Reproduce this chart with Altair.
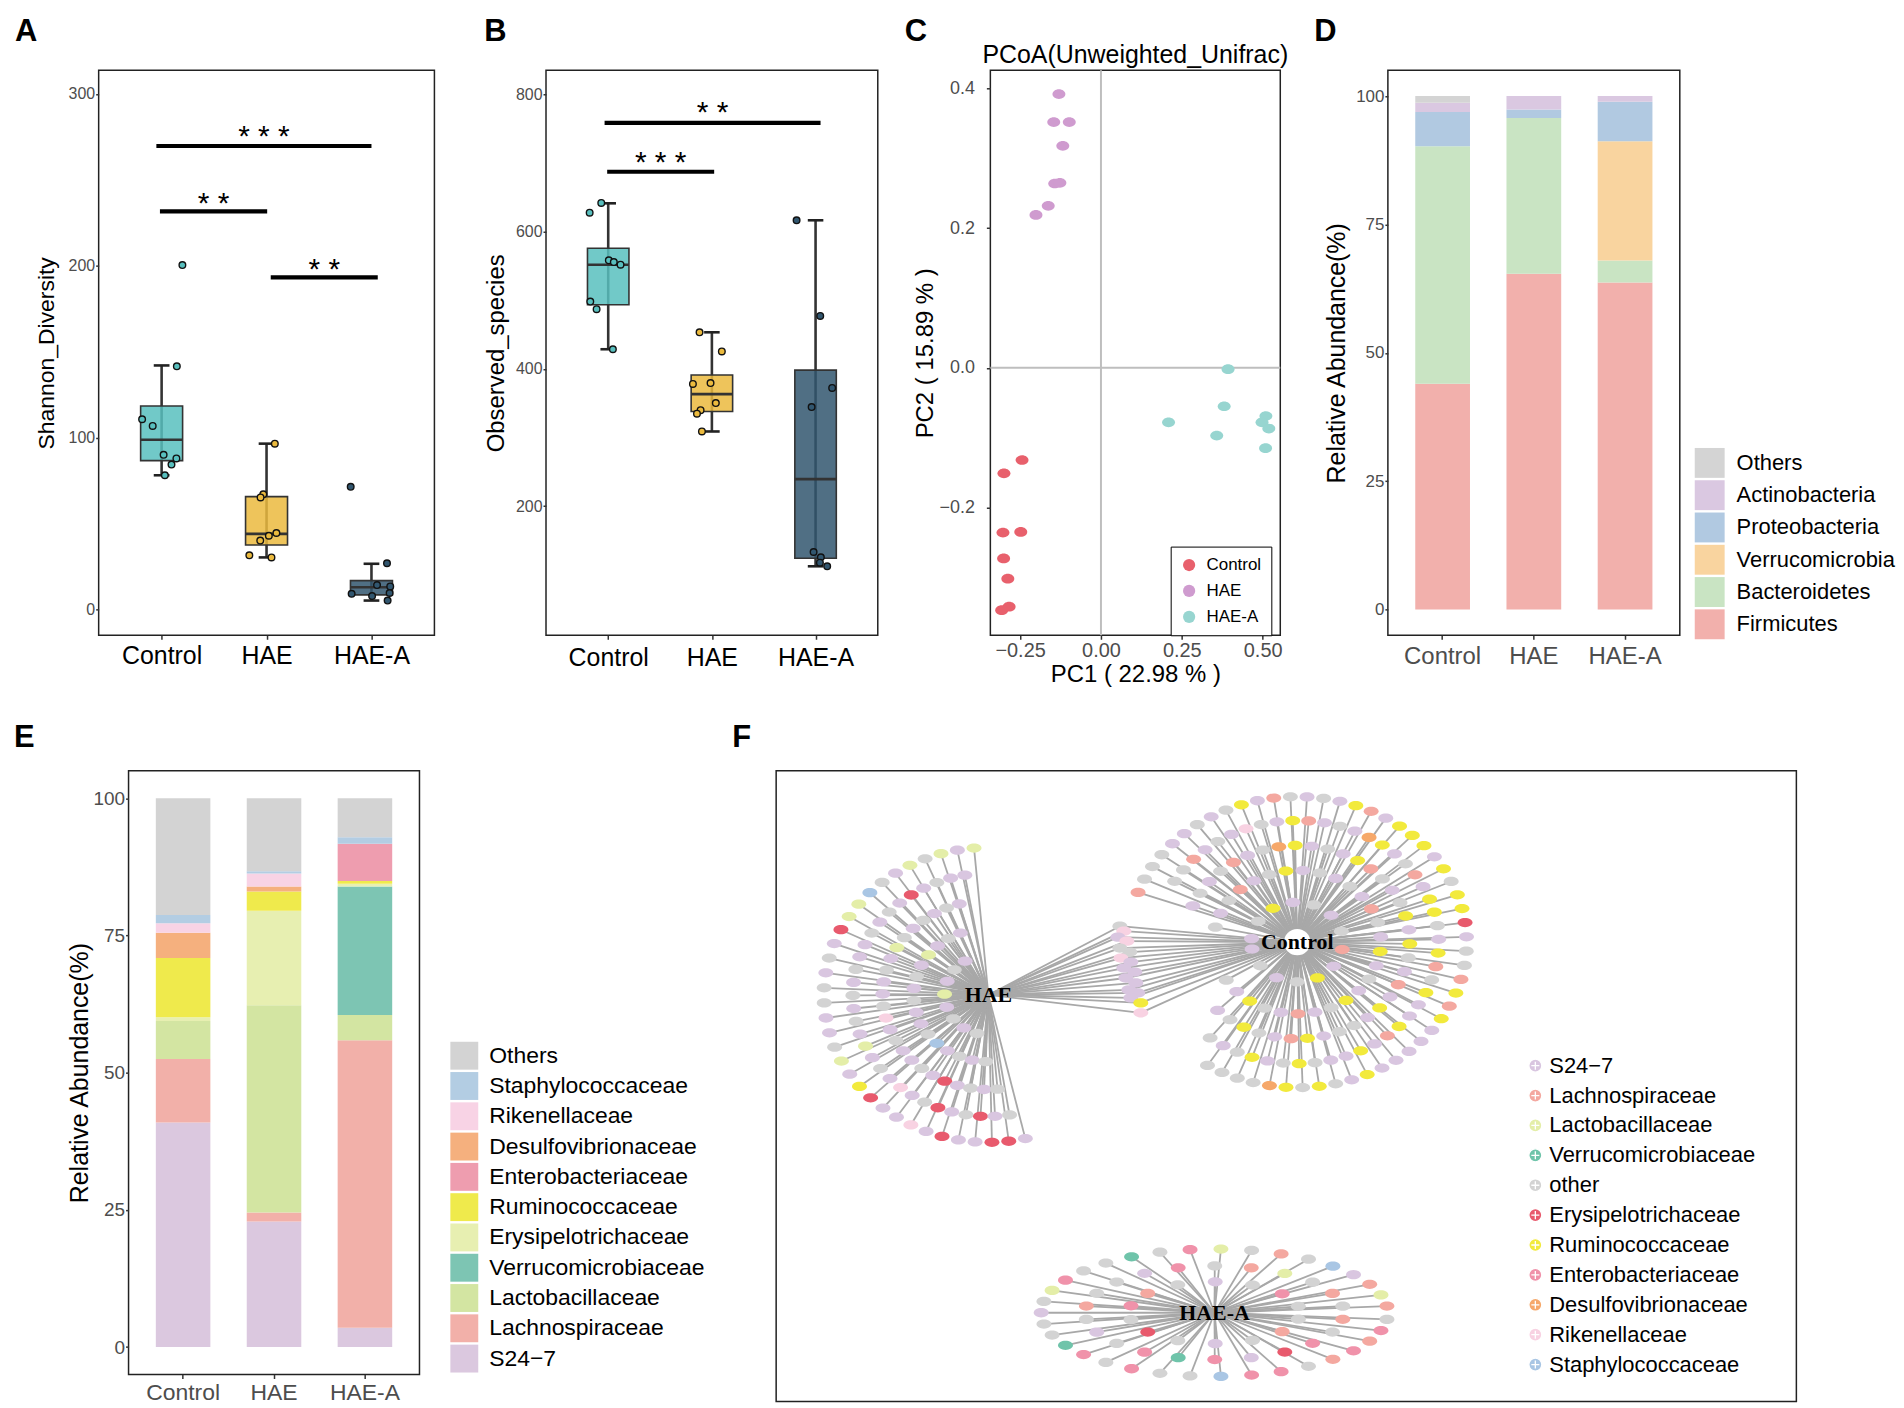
import altair as alt
import pandas as pd
import numpy as np

FONT = "Liberation Sans"
SERIF = "Liberation Serif"
GRAY_TXT = "#4D4D4D"

# ---------------- shared categories ----------------
groups = ["Control", "HAE", "HAE-A"]
group_pos = [1, 2, 3]
box_colors = ["#58BFBE", "#EBBA3E", "#31566F"]

# ---------------- panel A : Shannon diversity ----------------
A_q1 = [86.6, 37.5, 8.5]
A_med = [98.8, 44.0, 12.9]
A_q3 = [118.4, 65.7, 16.8]
A_lo = [78.1, 30.3, 5.2]
A_hi = [142.0, 96.5, 26.6]
pt_groups = ["Control"] * 8 + ["HAE"] * 8 + ["HAE-A"] * 8
A_pt_offset = [0.198, 0.145, -0.186, -0.085, 0.019, 0.141, 0.094, 0.031,
               0.079, -0.031, -0.057, 0.094, 0.022, -0.060, -0.164, 0.047,
               -0.198, 0.148, 0.053, 0.179, -0.189, 0.006, 0.173, 0.154]
A_pt_value = [200.4, 141.5, 110.7, 106.8, 90.0, 87.9, 84.3, 78.1,
              96.5, 67.0, 65.2, 44.5, 42.9, 40.1, 31.5, 30.3,
              71.4, 26.9, 14.2, 13.4, 9.1, 7.8, 9.6, 5.2]
A_sig_x1 = [0.95, 0.984, 2.04]
A_sig_x2 = [3.0, 2.006, 3.06]
A_sig_y = [269.7, 231.7, 193.2]
A_star_y = [279.3, 240.5, 202.2]
A_stars = ["* * *", "* *", "* *"]

# ---------------- panel B : Observed species ----------------
B_q1 = [493.5, 338.0, 124.2]
B_med = [551.9, 363.3, 239.5]
B_q3 = [575.8, 391.1, 398.3]
B_lo = [428.7, 308.9, 112.5]
B_hi = [641.3, 453.4, 616.6]
B_pt_offset = [-0.067, -0.179, 0.006, 0.054, 0.119, -0.173, -0.112, 0.045,
               -0.119, 0.096, -0.183, -0.013, 0.038, -0.109, -0.144, -0.096,
               -0.183, 0.045, 0.160, -0.038, -0.019, 0.051, 0.042, 0.112]
B_pt_value = [641.9, 627.7, 558.3, 555.7, 551.9, 498.1, 487.1, 428.7,
              453.4, 425.5, 378.2, 379.5, 350.3, 340.0, 334.8, 308.9,
              616.6, 477.3, 372.4, 344.5, 133.3, 125.5, 117.7, 112.5]
B_sig_x1 = [0.965, 0.99]
B_sig_x2 = [3.048, 2.022]
B_sig_y = [758.5, 687.3]
B_star_y = [785.0, 712.0]
B_stars = ["* *", "* * *"]

# ---------------- panel C : PCoA ----------------
C_title = "PCoA(Unweighted_Unifrac)"
C_group = ["Control"] * 8 + ["HAE"] * 8 + ["HAE-A"] * 8
C_pc1 = [-0.244, -0.300, -0.303, -0.248, -0.301, -0.288, -0.284, -0.307,
         -0.130, -0.146, -0.098, -0.118, -0.143, -0.127, -0.163, -0.201,
         0.393, 0.381, 0.209, 0.358, 0.510, 0.498, 0.519, 0.509]
C_pc2 = [-0.132, -0.151, -0.236, -0.235, -0.273, -0.302, -0.342, -0.347,
         0.392, 0.352, 0.352, 0.318, 0.264, 0.265, 0.232, 0.219,
         -0.002, -0.055, -0.078, -0.097, -0.069, -0.078, -0.087, -0.115]
C_colors = ["#E8606C", "#CF9BCF", "#97D5D0"]

# ---------------- panel D : phylum composition (bottom -> top) ----------------
D_taxa = ["Firmicutes", "Bacteroidetes", "Verrucomicrobia", "Proteobacteria", "Actinobacteria", "Others"]
D_control = [44.0, 46.2, 0.0, 6.7, 1.8, 1.3]
D_hae = [65.4, 30.3, 0.0, 1.7, 2.6, 0.0]
D_haea = [63.7, 4.3, 23.2, 7.7, 1.1, 0.0]
D_colors_top_down = ["#D4D4D4", "#DAC8E1", "#B1C9E1", "#F9D49F", "#C9E4C3", "#F2B0AC"]

# ---------------- panel E : family composition (bottom -> top) ----------------
E_taxa = ["S24\u22127", "Lachnospiraceae", "Lactobacillaceae", "Verrucomicrobiaceae",
          "Erysipelotrichaceae", "Ruminococcaceae", "Enterobacteriaceae",
          "Desulfovibrionaceae", "Rikenellaceae", "Staphylococcaceae", "Others"]
E_control = [40.9, 11.6, 6.9, 0.0, 0.7, 10.8, 0.0, 4.6, 1.7, 1.5, 21.3]
E_hae = [22.9, 1.6, 37.8, 0.0, 17.2, 3.5, 0.0, 0.9, 2.4, 0.4, 13.3]
E_haea = [3.5, 52.4, 4.6, 23.4, 0.5, 0.5, 6.8, 0.0, 0.0, 1.2, 7.1]
E_colors_top_down = ["#D3D3D3", "#B3CDE3", "#F8D3E5", "#F5B07E", "#EE9DAF", "#EFEA4C",
                     "#E7EFB1", "#7DC5B3", "#D3E5A2", "#F2B0A9", "#DBC8DF"]

# ---------------- panel F : network ----------------
F_families = ["S24\u22127", "Lachnospiraceae", "Lactobacillaceae", "Verrucomicrobiaceae", "other",
              "Erysipelotrichaceae", "Ruminococcaceae", "Enterobacteriaceae",
              "Desulfovibrionaceae", "Rikenellaceae", "Staphylococcaceae"]
F_codes = ["S", "L", "B", "V", "O", "E", "R", "N", "D", "K", "T"]
F_colors = ["#D9C6E0", "#F4A8A0", "#E4EEA8", "#6FC4AA", "#D3D3D3", "#E85A6D",
            "#F2EA3C", "#F092AA", "#F6A86A", "#F8D2E2", "#A9C6E4"]
F_hub_names = ["Control", "HAE", "HAE-A"]
F_hub_x = [523, 213, 440]
F_hub_y = [172, 225, 544]
# rings: hub, radius x, radius y, start angle, end angle, node families in order
F_rings = [
    ("Control", 170, 146, -122, 160, "OOOODROROSRSSSSSRLRLOOSERRORSRRRSLRSOSOLSROSOSSOOOL"),
    ("Control", 142, 122, -128, 150, "OSORSOROSSRSLRSSROLRSORRSLOSRDSOSLRSOKSOSLOO"),
    ("Control", 113, 97, -135, 158, "SOROSLRSOOSRSLSORSROSOLRSOSRDOSLOSOS"),
    ("Control", 84, 72, -148, 168, "OSROSLSORSOSRSOLSOSOSROSLOSO"),
    ("Control", 46, 40, -170, 175, "SOSORSLOSOSROS"),
    ("HAE", 165, 148, 95, 283, "BSBOBSOTBBESOSOOSSOBSRESSKSESSEES"),
    ("HAE", 136, 122, 100, 279, "SSOSESOSOSSOSOSOSBSOSKSOESOESO"),
    ("HAE", 106, 95, 106, 275, "SOSOSOBSOSSOKSOSSOSESOSO"),
    ("HAE", 75, 67, 112, 268, "SOSBSOSOSSOTSOSO"),
    ("HAE", 44, 40, 122, 255, "SOSBSOSO"),
    ("HAE-A", 174, 64, 6, 354, "LBLSTOLOBNOVOONBOSOOVNONOOTNNOLNLNO"),
    ("HAE-A", 130, 47, 8, 352, "OLOBLONSOOLOSONVNSENOL"),
    ("HAE-A", 86, 31, 12, 348, "ONOSOLNOEOSOLO"),
]
# nodes shared by HAE and Control
F_shared_x = [345, 349, 343, 352, 345, 355, 346, 356, 349, 360, 351, 361, 354, 363, 356, 366, 366]
F_shared_y = [156, 161, 167, 171, 178, 182, 188, 192, 198, 202, 208, 213, 220, 223, 228, 233, 243]
F_shared_c = "OKSKOOKSSSSSSSSRK"

ELL_C = "M-1,0 C-1,-0.41 -0.55,-0.75 0,-0.75 C0.55,-0.75 1,-0.41 1,0 C1,0.41 0.55,0.75 0,0.75 C-0.55,0.75 -1,0.41 -1,0 Z"
ELL_F = "M-1,0 C-1,-0.34 -0.55,-0.62 0,-0.62 C0.55,-0.62 1,-0.34 1,0 C1,0.34 0.55,0.62 0,0.62 C-0.55,0.62 -1,0.34 -1,0 Z"
OPLUS = ("M-1,0 C-1,-0.55 -0.55,-1 0,-1 C0.55,-1 1,-0.55 1,0 C1,0.55 0.55,1 0,1 "
         "C-0.55,1 -1,0.55 -1,0 Z M-0.62,0 L0.62,0 M0,-0.62 L0,0.62")


# ---------------- helpers ----------------
def text_at(txt, x, y, size=31, weight="bold", align="left", font=FONT):
    return alt.Chart(pd.DataFrame({"t": [txt]})).mark_text(
        font=font, fontSize=size, fontWeight=weight, align=align, baseline="alphabetic", color="black"
    ).encode(text="t:N", x=alt.value(x), y=alt.value(y))


def guide(x1, y1, x2, y2):
    # white (invisible) layout helper placed where nothing else is drawn
    return alt.Chart(pd.DataFrame({"g": [0]})).mark_rule(color="white", strokeWidth=1).encode(
        x=alt.value(x1), y=alt.value(y1), x2=alt.value(x2), y2=alt.value(y2))


def spacer(w):
    # narrow empty cell that starts each row at the page's left edge
    return guide(0, 0, 0, 0).properties(width=w, height=1,
                                        view=alt.ViewBackground(stroke="transparent", strokeOpacity=0))


def group_axis(size, color, pad):
    return alt.Axis(values=group_pos,
                    labelExpr="datum.value == 1 ? 'Control' : (datum.value == 2 ? 'HAE' : 'HAE-A')",
                    labelFontSize=size, labelColor=color, labelPadding=pad, tickSize=4,
                    labelFlush=False, labelOverlap=False, title=None)


def box_panel(q1, med, q3, lo, hi, offs, vals, sx1, sx2, sy, stary, stars, ydomain, yticks,
              ytitle, ytitle_size, ytitle_pad, ylab_size, xlab_pad, width, height, letter, lx, guide_args):
    box = pd.DataFrame({"group": groups, "pos": group_pos, "q1": q1, "med": med, "q3": q3,
                        "lo": lo, "hi": hi})
    box["left"] = box["pos"] - 0.2
    box["right"] = box["pos"] + 0.2
    box["capl"] = box["pos"] - 0.075
    box["capr"] = box["pos"] + 0.075
    pts = pd.DataFrame({"group": pt_groups, "val": vals})
    pts["px"] = [group_pos[groups.index(g)] + o for g, o in zip(pt_groups, offs)]
    sig = pd.DataFrame({"x1": sx1, "x2": sx2, "y": sy, "sy": stary, "t": stars})
    sig["xc"] = (sig["x1"] + sig["x2"]) / 2

    xs = alt.Scale(domain=[0.4, 3.6], nice=False, zero=False)
    ys = alt.Scale(domain=ydomain, nice=False, zero=False)
    xax = group_axis(25, "black", xlab_pad)
    yax = alt.Axis(values=yticks, labelFontSize=ylab_size, labelColor=GRAY_TXT, tickSize=3,
                   labelPadding=1, title=ytitle, titleFontSize=ytitle_size, titlePadding=ytitle_pad,
                   titleFontWeight="normal", format="d")
    fill = alt.Fill("group:N", scale=alt.Scale(domain=groups, range=box_colors), legend=None)

    def X(f):
        return alt.X(f, type="quantitative", scale=xs, axis=xax)

    def Y(f):
        return alt.Y(f, type="quantitative", scale=ys, axis=yax)

    whisk = alt.Chart(box).mark_rule(color="#333333", strokeWidth=2.6).encode(x=X("pos"), y=Y("lo"), y2="hi:Q")
    boxes = alt.Chart(box).mark_bar(stroke="#333333", strokeWidth=1.6, fillOpacity=0.85).encode(
        x=X("left"), x2="right:Q", y=Y("q1"), y2="q3:Q", fill=fill)
    medl = alt.Chart(box).mark_rule(color="#333333", strokeWidth=2.6).encode(x=X("left"), x2="right:Q", y=Y("med"))
    cap_lo = alt.Chart(box).mark_rule(color="#222222", strokeWidth=2.6).encode(x=X("capl"), x2="capr:Q", y=Y("lo"))
    cap_hi = alt.Chart(box).mark_rule(color="#222222", strokeWidth=2.6).encode(x=X("capl"), x2="capr:Q", y=Y("hi"))
    points = alt.Chart(pts).mark_point(filled=True, size=44, stroke="#111111", strokeWidth=1.4, opacity=1).encode(
        x=X("px"), y=Y("val"), fill=fill)
    bars = alt.Chart(sig).mark_rule(color="black", strokeWidth=4.2).encode(x=X("x1"), x2="x2:Q", y=Y("y"))
    startxt = alt.Chart(sig).mark_text(font=FONT, fontSize=30, dy=17, baseline="alphabetic",
                                       align="center", color="black").encode(x=X("xc"), y=Y("sy"), text="t:N")
    return alt.layer(whisk, boxes, medl, cap_lo, cap_hi, points, bars, startxt,
                     text_at(letter, lx, -29), guide(*guide_args)).properties(width=width, height=height)


def stacked_panel(vals_by_group, taxa_bottom_up, colors_top_down, width, height, ylab_size, ytitle_pad,
                  xlab_size, xlab_pad, leg_x, leg_y, sym, row_pad, lab_off, leg_font,
                  letter, lx, ly, guide_args):
    rows = []
    for g, vals in zip(groups, vals_by_group):
        for k, (t, v) in enumerate(zip(taxa_bottom_up, vals)):
            rows.append({"group": g, "taxon": t, "value": v, "ord": k})
    df = pd.DataFrame(rows)
    top_down = taxa_bottom_up[::-1]
    bars = alt.Chart(df).mark_bar(strokeWidth=0).encode(
        x=alt.X("group:N", sort=groups, scale=alt.Scale(paddingInner=0.4, paddingOuter=0.3),
                axis=alt.Axis(title=None, labelAngle=0, labelFontSize=xlab_size, labelColor=GRAY_TXT,
                              tickSize=4, labelPadding=xlab_pad)),
        y=alt.Y("value:Q", stack="zero", scale=alt.Scale(domain=[-5, 105], nice=False, zero=False),
                axis=alt.Axis(values=[0, 25, 50, 75, 100], labelFontSize=ylab_size, labelColor=GRAY_TXT,
                              tickSize=3, labelPadding=1, title="Relative Abundance(%)", titleFontSize=25,
                              titlePadding=ytitle_pad, titleFontWeight="normal")),
        color=alt.Color("taxon:N", scale=alt.Scale(domain=top_down, range=colors_top_down),
                        legend=alt.Legend(title=None, orient="none", legendX=leg_x, legendY=leg_y,
                                          symbolType="square", symbolSize=sym * sym, symbolStrokeWidth=0,
                                          rowPadding=row_pad, labelOffset=lab_off, labelFontSize=leg_font,
                                          labelLimit=600, padding=0, labelColor="black")),
        order=alt.Order("ord:Q", sort="ascending"),
    )
    return alt.layer(bars, text_at(letter, lx, ly), guide(*guide_args)).properties(width=width, height=height)


# ---------------- panel A / B ----------------
A = box_panel(A_q1, A_med, A_q3, A_lo, A_hi, A_pt_offset, A_pt_value, A_sig_x1, A_sig_x2, A_sig_y,
              A_star_y, A_stars, [-15, 313.7], [0, 100, 200, 300], "Shannon_Diversity", 23, 10, 16, 4,
              337, 567, "A", -84, (-86, -58, -86, 640))
B = box_panel(B_q1, B_med, B_q3, B_lo, B_hi, B_pt_offset, B_pt_value, B_sig_x1, B_sig_x2, B_sig_y,
              B_star_y, B_stars, [12, 835], [200, 400, 600, 800], "Observed_species", 24, 7, 16, 6,
              333, 567, "B", -62, (-109, 0, -109, 0))

# ---------------- panel C ----------------
C_df = pd.DataFrame({"group": C_group, "pc1": C_pc1, "pc2": C_pc2})
zero_df = pd.DataFrame({"z": [0.0]})
cxs = alt.Scale(domain=[-0.342, 0.5545], nice=False, zero=False)
cys = alt.Scale(domain=[-0.383, 0.426], nice=False, zero=False)
cxax = alt.Axis(values=[-0.25, 0, 0.25, 0.5], format=".2f", labelFontSize=20, labelColor=GRAY_TXT, tickSize=4,
                labelPadding=1, labelFlush=False, labelOverlap=False, title="PC1 ( 22.98 % )", titleFontSize=24,
                titlePadding=2, titleFontWeight="normal")
cyax = alt.Axis(values=[-0.2, 0, 0.2, 0.4], format=".1f", labelFontSize=18, labelColor=GRAY_TXT, tickSize=4,
                labelPadding=12, labelFlush=False, labelOverlap=False, title="PC2 ( 15.89 % )", titleFontSize=24,
                titlePadding=2, titleFontWeight="normal")
c_v = alt.Chart(zero_df).mark_rule(color="#BEBEBE", strokeWidth=2).encode(x=alt.X("z:Q", scale=cxs, axis=cxax))
c_h = alt.Chart(zero_df).mark_rule(color="#BEBEBE", strokeWidth=2).encode(y=alt.Y("z:Q", scale=cys, axis=cyax))
c_pts = alt.Chart(C_df).mark_point(filled=True, size=169, shape=ELL_C, opacity=1).encode(
    x=alt.X("pc1:Q", scale=cxs, axis=cxax),
    y=alt.Y("pc2:Q", scale=cys, axis=cyax),
    color=alt.Color("group:N", scale=alt.Scale(domain=groups, range=C_colors),
                    legend=alt.Legend(title=None, orient="none", legendX=181, legendY=478,
                                      strokeColor="black", fillColor="white", padding=10,
                                      labelFontSize=17, labelColor="black", symbolSize=150,
                                      symbolType="circle", rowPadding=8, labelOffset=9)),
)
C = alt.layer(c_v, c_h, c_pts, text_at("C", -86, -29),
              text_at(C_title, 145.5, -7, size=25, weight="normal", align="center"),
              guide(-110, -56, 303, -56)).properties(width=291, height=567)

# ---------------- panel D / E ----------------
D = stacked_panel([D_control, D_hae, D_haea], D_taxa, D_colors_top_down, 293, 567, 17, 6, 24, 5,
                  308, 379, 30, 2.4, 12, 22, "D", -74, -29, (-92, 0, -92, 0))
E = stacked_panel([E_control, E_hae, E_haea], E_taxa, E_colors_top_down, 292, 606, 19, 1, 23, 3,
                  323, 272, 28, 2.4, 11, 23, "E", -115, -24, (-116, -55, 600, -55))

# ---------------- panel F ----------------
code2fam = dict(zip(F_codes, F_families))
hub_xy = {n: (x, y) for n, x, y in zip(F_hub_names, F_hub_x, F_hub_y)}
node_rows, edge_rows = [], []
for hub, rx, ry, a0, a1, cols in F_rings:
    cx, cy = hub_xy[hub]
    n = len(cols)
    for i, c in enumerate(cols):
        a = np.deg2rad(a0 + (a1 - a0) * i / (n - 1))
        nx, ny = cx + rx * np.cos(a), cy - ry * np.sin(a)
        node_rows.append({"x": nx, "y": ny, "family": code2fam[c]})
        edge_rows.append({"x": cx, "y": cy, "x2": nx, "y2": ny})
for sx, sy, c in zip(F_shared_x, F_shared_y, F_shared_c):
    node_rows.append({"x": sx, "y": sy, "family": code2fam[c]})
    for hub in ["HAE", "Control"]:
        cx, cy = hub_xy[hub]
        edge_rows.append({"x": cx, "y": cy, "x2": sx, "y2": sy})
nodes = pd.DataFrame(node_rows)
edges = pd.DataFrame(edge_rows)
hubs = pd.DataFrame({"hub": F_hub_names, "x": F_hub_x, "y": F_hub_y})

fxs = alt.Scale(domain=[0, 1024], nice=False, zero=False)
fys = alt.Scale(domain=[0, 633], nice=False, zero=False, reverse=True)
f_edges = alt.Chart(edges).mark_rule(color="#A8A8A8", strokeWidth=1.8).encode(
    x=alt.X("x:Q", scale=fxs, axis=None), y=alt.Y("y:Q", scale=fys, axis=None), x2="x2:Q", y2="y2:Q")
f_nodes = alt.Chart(nodes).mark_point(filled=True, size=225, shape=ELL_F, opacity=1).encode(
    x=alt.X("x:Q", scale=fxs, axis=None), y=alt.Y("y:Q", scale=fys, axis=None),
    fill=alt.Fill("family:N", scale=alt.Scale(domain=F_families, range=F_colors),
                  legend=alt.Legend(title=None, orient="none", legendX=751, legendY=285,
                                    symbolType=OPLUS, symbolSize=169, rowPadding=8, labelOffset=3,
                                    labelFontSize=22, labelColor="black", labelLimit=600, padding=0,
                                    symbolStrokeColor="white", symbolStrokeWidth=1.3)))
f_disc = alt.Chart(hubs[hubs["hub"] == "Control"]).mark_point(filled=True, size=700, color="white", opacity=1,
                                                              shape="circle").encode(
    x=alt.X("x:Q", scale=fxs, axis=None), y=alt.Y("y:Q", scale=fys, axis=None))
f_labels = alt.Chart(hubs).mark_text(font=SERIF, fontWeight="bold", fontSize=22, color="black").encode(
    x=alt.X("x:Q", scale=fxs, axis=None), y=alt.Y("y:Q", scale=fys, axis=None), text="hub:N")
F = alt.layer(f_edges, f_nodes, f_disc, f_labels, text_at("F", -44, -24),
              guide(-46, -55, -46, -55)).properties(width=1024, height=633)

# ---------------- layout ----------------
row1 = alt.hconcat(spacer(2), A, B, C, D, spacing=0).resolve_scale(color="independent", fill="independent")
row2 = alt.hconcat(spacer(2), E, F, spacing=0).resolve_scale(color="independent", fill="independent")
chart = alt.vconcat(row1, row2, spacing=4).resolve_scale(
    color="independent", fill="independent"
).properties(padding=0).configure_view(
    stroke="#222222", strokeWidth=1.5
).configure_axis(
    labelFont=FONT, titleFont=FONT, grid=False, domain=False, tickColor="#333333", tickWidth=1.5,
    titleColor="black"
).configure_legend(labelFont=FONT)

chart.save("out.html", embed_options={"renderer": "svg", "actions": False})
